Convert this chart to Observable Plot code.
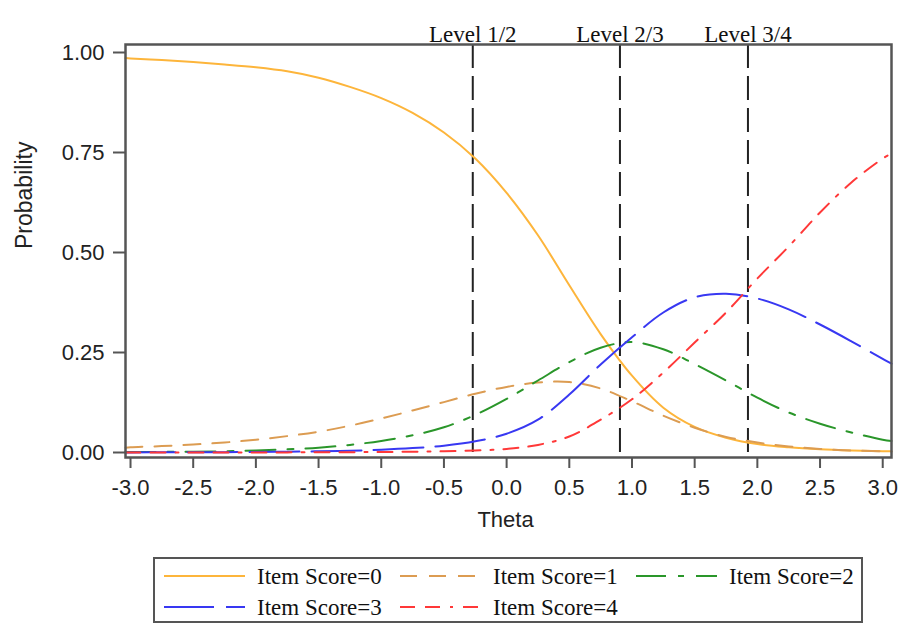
<!DOCTYPE html>
<html><head><meta charset="utf-8">
<script src="https://cdn.jsdelivr.net/npm/d3@7"></script>
<script src="https://cdn.jsdelivr.net/npm/@observablehq/plot@0.6"></script>
<style>
body{margin:0;background:#fff;}
#wrap{position:relative;width:901px;height:626px;overflow:hidden;}
#legend{position:absolute;left:153px;top:557px;}
</style></head><body><div id="wrap"><div id="chart"></div><div id="legend"></div></div>
<script>
// Theta grid (read points)
const theta = [-3.04, -3, -2.75, -2.5, -2.25, -2, -1.75, -1.5, -1.25, -1, -0.75, -0.5, -0.25, 0, 0.25, 0.5, 0.75, 1, 1.25, 1.5, 1.75, 2, 2.25, 2.5, 2.75, 3, 3.07];
// Category probabilities
const score0 = [0.986, 0.985, 0.981, 0.976, 0.970, 0.963, 0.953, 0.937, 0.914, 0.886, 0.849, 0.800, 0.735, 0.649, 0.543, 0.418, 0.296, 0.192, 0.112, 0.064, 0.037, 0.021, 0.013, 0.008, 0.005, 0.003, 0.003];
const score1 = [0.012, 0.013, 0.016, 0.020, 0.025, 0.032, 0.041, 0.052, 0.067, 0.085, 0.105, 0.126, 0.147, 0.164, 0.175, 0.176, 0.160, 0.128, 0.092, 0.062, 0.039, 0.025, 0.015, 0.009, 0.005, 0.003, 0.002];
const score2 = [0.001, 0.001, 0.0015, 0.002, 0.003, 0.005, 0.008, 0.012, 0.019, 0.029, 0.043, 0.063, 0.094, 0.134, 0.180, 0.226, 0.262, 0.276, 0.258, 0.221, 0.180, 0.137, 0.100, 0.072, 0.050, 0.032, 0.029];
const score3 = [0.0003, 0.0003, 0.0004, 0.0006, 0.0009, 0.0013, 0.002, 0.003, 0.0045, 0.007, 0.011, 0.017, 0.028, 0.047, 0.082, 0.145, 0.220, 0.288, 0.350, 0.388, 0.397, 0.385, 0.358, 0.320, 0.278, 0.234, 0.222];
const score4 = [0, 0, 0, 0.0001, 0.0001, 0.0002, 0.0003, 0.0005, 0.0008, 0.0013, 0.002, 0.003, 0.005, 0.009, 0.019, 0.040, 0.082, 0.133, 0.200, 0.275, 0.350, 0.435, 0.515, 0.600, 0.675, 0.735, 0.748];

const seriesNames = ["Item Score=0", "Item Score=1", "Item Score=2", "Item Score=3", "Item Score=4"];
const seriesValues = [score0, score1, score2, score3, score4];
const seriesColors = ["#FDB53B", "#DC9C52", "#2A962A", "#3838F2", "#FF3838"];
const seriesDash = [null, "17,12", "30,12,6,12", "50,12", "15,10,15,10,3,10"];

const levelTheta = [-0.27, 0.904, 1.925];
const levelLabels = ["Level 1/2", "Level 2/3", "Level 3/4"];

const xTicks = [-3, -2.5, -2, -1.5, -1, -0.5, 0, 0.5, 1, 1.5, 2, 2.5, 3];
const yTicks = [0, 0.25, 0.5, 0.75, 1];

const levelRows = levelTheta.map((t, i) => ({theta: t, label: levelLabels[i]}));
const lineMarks = seriesValues.map((vals, s) =>
  Plot.line(theta.map((t, i) => ({theta: t, p: vals[i]})), {
    x: "theta", y: "p", stroke: seriesColors[s], strokeWidth: 2,
    strokeDasharray: seriesDash[s] ?? undefined, curve: "catmull-rom"
  })
);

const sans = "'Liberation Sans', Arial, sans-serif";
const serif = "'Liberation Serif', 'Times New Roman', serif";

const plot = Plot.plot({
  width: 901, height: 550,
  marginLeft: 125, marginRight: 10, marginTop: 44, marginBottom: 93,
  x: {domain: [-3.04, 3.07]},
  y: {domain: [-0.0125, 1.02]},
  style: {fontFamily: sans, fontSize: "22px", color: "#222", background: "#fff"},
  marks: [
    Plot.ruleX(levelRows, {x: "theta", stroke: "#222", strokeWidth: 2, strokeDasharray: "24,8"}),
    ...lineMarks,
    Plot.frame({stroke: "#555", strokeWidth: 2.5}),
    Plot.axisX({ticks: xTicks, tickFormat: d => d.toFixed(1), tickSize: 11, tickPadding: 11, label: null, fontSize: 22, stroke: "#555", strokeWidth: 2, fill: "#222"}),
    Plot.axisY({ticks: yTicks, tickFormat: d => d.toFixed(2), tickSize: 12, tickPadding: 9, label: null, fontSize: 22, stroke: "#555", strokeWidth: 2, fill: "#222"}),
    Plot.text(levelRows, {x: "theta", text: "label", frameAnchor: "top", dy: -19, fontFamily: serif, fontSize: 23, fill: "#111"}),
    Plot.text(["Theta"], {text: d => d, frameAnchor: "bottom", dy: 69, dx: -3, fontSize: 22, fill: "#222"}),
    Plot.text(["Probability"], {text: d => d, frameAnchor: "left", dx: -101, dy: -2, rotate: -90, fontSize: 23, fill: "#222"})
  ]
});
document.getElementById("chart").appendChild(plot);

// Legend
const L = d3.select("#legend").append("svg").attr("width", 712).attr("height", 68);
L.append("rect").attr("x", 1).attr("y", 1).attr("width", 708).attr("height", 64)
  .attr("fill", "#fff").attr("stroke", "#555").attr("stroke-width", 2);
seriesNames.forEach((name, i) => {
  const col = i % 3, row = Math.floor(i / 3);
  const x0 = 11 + col * 236, y0 = 19 + row * 31;
  const ln = L.append("line").attr("x1", x0).attr("x2", x0 + 81).attr("y1", y0).attr("y2", y0)
    .attr("stroke", seriesColors[i]).attr("stroke-width", 2);
  if (seriesDash[i]) ln.attr("stroke-dasharray", seriesDash[i]);
  L.append("text").attr("x", x0 + 93).attr("y", y0).attr("dy", "0.35em")
    .attr("font-family", serif).attr("font-size", 23).attr("fill", "#111").text(name);
});
</script></body></html>
